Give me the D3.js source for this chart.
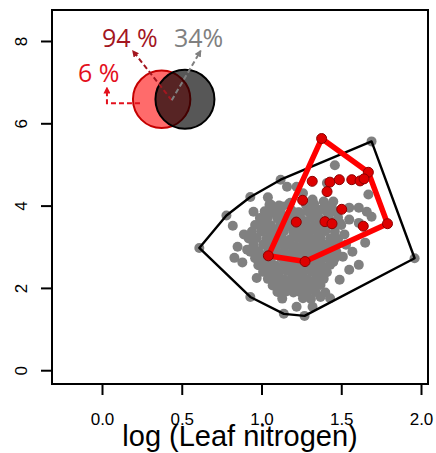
<!DOCTYPE html>
<html><head><meta charset="utf-8">
<script src="https://cdn.jsdelivr.net/npm/d3@7"></script>
<style>body{margin:0;background:#fff}</style>
</head><body>
<svg id="c" width="436" height="453"></svg>
<script>
const xTicks=[0,0.5,1,1.5,2];
const xTickLabels=["0.0","0.5","1.0","1.5","2.0"];
const yTicks=[0,2,4,6,8];
const yTickLabels=["0","2","4","6","8"];
const xTitle="log (Leaf nitrogen)";

// gray points: all species (log leaf N, trait)
const grayOutliers=[
[0.61,2.97],[0.78,3.76],[0.82,3.51],[0.93,4.21],[1.04,4.20],[0.95,3.85],[1.00,3.66],[1.05,4.02],
[1.07,3.83],[1.13,3.98],[1.03,3.49],[1.18,4.07],[1.12,4.63],[1.16,4.46],[1.22,4.46],[1.26,4.30],
[1.24,3.83],[1.27,3.59],[1.16,3.49],[1.41,4.55],[1.46,4.98],[1.69,5.56],[1.32,4.15],[1.39,4.10],
[1.45,4.10],[1.30,3.90],[1.37,3.90],[1.43,3.85],[1.55,3.95],[1.61,3.95],[1.66,3.85],[1.67,4.27],
[1.69,3.73],[1.55,3.66],[1.61,3.58],[1.49,3.58],[1.65,3.10],[1.57,2.88],[1.51,2.76],[1.45,2.63],
[1.61,2.56],[1.55,2.44],[1.49,2.20],[1.37,2.24],[1.43,1.75],[1.37,1.78],[1.32,1.54],[1.22,1.54],
[1.27,1.32],[1.14,1.37],[0.93,1.78],[0.97,2.24],[1.12,1.90],[1.18,2.00],[1.24,1.90],[1.26,2.15],
[1.10,2.07],[1.07,2.39],[1.01,2.56],[1.03,3.05],[1.00,3.37],[0.85,3.00],[0.91,2.93],[0.83,2.73],
[1.96,2.72],[0.89,3.30],[0.88,2.62],[1.52,3.30],[1.53,3.05]
];
const grayCore=[
[1.06,4.02],[1.11,4.00],[1.17,4.03],[1.28,4.01],[1.33,4.04],[1.40,4.00],[1.44,4.02],
[1.02,3.86],[1.08,3.87],[1.12,3.85],[1.19,3.88],[1.23,3.84],[1.29,3.86],[1.34,3.87],[1.41,3.84],[1.46,3.86],
[0.99,3.70],[1.04,3.71],[1.10,3.69],[1.15,3.72],[1.20,3.70],[1.25,3.68],[1.31,3.71],[1.36,3.70],[1.42,3.69],[1.48,3.71],
[0.96,3.53],[1.01,3.54],[1.06,3.52],[1.12,3.55],[1.17,3.53],[1.22,3.51],[1.28,3.54],[1.33,3.53],[1.38,3.52],[1.44,3.54],[1.50,3.53],
[0.94,3.37],[1.00,3.38],[1.05,3.36],[1.09,3.39],[1.14,3.37],[1.20,3.35],[1.25,3.38],[1.30,3.37],[1.35,3.36],[1.40,3.38],[1.46,3.37],
[0.92,3.20],[0.97,3.21],[1.03,3.19],[1.08,3.22],[1.13,3.20],[1.18,3.18],[1.23,3.21],[1.27,3.20],[1.32,3.19],[1.37,3.21],[1.43,3.20],[1.48,3.19],
[0.95,3.04],[1.01,3.05],[1.06,3.03],[1.11,3.06],[1.16,3.04],[1.21,3.02],[1.26,3.05],[1.30,3.04],[1.35,3.03],[1.40,3.05],[1.45,3.04],
[0.93,2.88],[0.98,2.89],[1.04,2.87],[1.09,2.90],[1.14,2.88],[1.19,2.86],[1.24,2.89],[1.29,2.88],[1.33,2.87],[1.38,2.89],[1.43,2.88],[1.47,2.87],
[0.96,2.72],[1.01,2.73],[1.06,2.71],[1.12,2.74],[1.17,2.72],[1.22,2.70],[1.27,2.73],[1.31,2.72],[1.36,2.71],[1.41,2.73],[1.46,2.72],
[0.98,2.55],[1.04,2.56],[1.09,2.54],[1.14,2.57],[1.19,2.55],[1.24,2.53],[1.28,2.56],[1.33,2.55],[1.38,2.54],[1.43,2.56],
[1.01,2.39],[1.06,2.40],[1.11,2.38],[1.16,2.41],[1.21,2.39],[1.26,2.37],[1.31,2.40],[1.36,2.39],[1.41,2.38],
[1.04,2.22],[1.09,2.23],[1.14,2.21],[1.19,2.24],[1.24,2.22],[1.29,2.20],[1.34,2.23],[1.39,2.22],
[1.07,2.06],[1.12,2.07],[1.17,2.05],[1.22,2.08],[1.27,2.06],[1.32,2.04],[1.37,2.07],
[1.10,1.90],[1.15,1.91],[1.20,1.89],[1.29,1.92],[1.34,1.90],[1.40,1.89],
[1.13,1.74],[1.26,1.75],[1.31,1.73]
];
// red points: focal subset
const redPts=[
[1.377,5.63],[1.670,4.81],[1.790,3.56],[1.273,2.64],[1.043,2.78],[1.318,4.59],[1.429,4.57],[1.488,4.63],
[1.566,4.63],[1.618,4.60],[1.643,4.65],[1.411,4.34],[1.258,4.13],[1.503,3.91],[1.218,3.60],[1.398,3.61],
[1.442,3.56],[1.638,3.50]
];
// Venn inset (data units; r in x units)
const vennSets=[
{id:"sub", cx:0.374, cy:6.583, r:0.180, fill:"rgba(255,0,0,0.58)", stroke:"#c40000"},
{id:"all", cx:0.520, cy:6.583, r:0.185, fill:"rgba(0,0,0,0.66)", stroke:"#000"}
];
const vennLabels=[
{text:"94 %", x:0.0, y:7.854, color:"#a3161f"},
{text:"34%", x:0.451, y:7.854, color:"#808080"},
{text:"6 %", x:-0.150, y:7.003, color:"#e3101c"}
];
const vennArrows=[
{pts:[[0.437,6.56],[0.194,7.757]], color:"#a3161f"},
{pts:[[0.437,6.56],[0.618,7.757]], color:"#808080"},
{pts:[[0.238,6.49],[0.031,6.49],[0.031,6.86]], color:"#e3101c"}
];

const svg=d3.select("#c");
const L=52,R=428,T=10,B=384;
const x=d3.scaleLinear().domain([-0.3135,2.0439]).range([L,R]);
const y=d3.scaleLinear().domain([-0.335,8.753]).range([B,T]);
const font="'Liberation Sans', Arial, Helvetica, sans-serif";

// points
svg.append("g").selectAll("circle").data(grayOutliers.concat(grayCore)).join("circle")
  .attr("cx",d=>x(d[0])).attr("cy",d=>y(d[1])).attr("r",5).attr("fill","#808080");

// hulls
const line=d3.line().x(d=>x(d[0])).y(d=>y(d[1])).curve(d3.curveLinearClosed);
const grayHull=d3.polygonHull(grayOutliers.concat(grayCore));
svg.append("path").attr("d",line(grayHull)).attr("fill","none").attr("stroke","#000").attr("stroke-width",2.4).attr("stroke-linejoin","round");
const redHull=d3.polygonHull(redPts);
svg.append("path").attr("d",line(redHull)).attr("fill","none").attr("stroke","#ff0000").attr("stroke-width",5.5).attr("stroke-linejoin","round");

svg.append("g").selectAll("circle").data(redPts).join("circle")
  .attr("cx",d=>x(d[0])).attr("cy",d=>y(d[1])).attr("r",5).attr("fill","#dd0000").attr("stroke","#8b0000").attr("stroke-width",1);

// Venn
const pxPerX=x(1)-x(0);
svg.append("g").selectAll("circle").data(vennSets).join("circle")
  .attr("cx",d=>x(d.cx)).attr("cy",d=>y(d.cy)).attr("r",d=>d.r*pxPerX)
  .attr("fill",d=>d.fill).attr("stroke",d=>d.stroke).attr("stroke-width",2);

const defs=svg.append("defs");
vennArrows.forEach((a,i)=>{
  defs.append("marker").attr("id","ah"+i).attr("viewBox","0 0 10 10").attr("refX",8).attr("refY",5)
    .attr("markerWidth",7).attr("markerHeight",7).attr("markerUnits","userSpaceOnUse").attr("orient","auto")
    .append("path").attr("d","M0,0L10,5L0,10Z").attr("fill",a.color);
  svg.append("path").attr("d",d3.line().x(d=>x(d[0])).y(d=>y(d[1]))(a.pts))
    .attr("fill","none").attr("stroke",a.color).attr("stroke-width",2).attr("stroke-dasharray","5,3")
    .attr("marker-end","url(#ah"+i+")");
});
svg.append("g").selectAll("text").data(vennLabels).join("text")
  .attr("x",d=>x(d.x)).attr("y",d=>y(d.y)).attr("fill",d=>d.color)
  .attr("font-family","'Open Sans', sans-serif").attr("font-size",25).text(d=>d.text);

// box
svg.append("rect").attr("x",L).attr("y",T).attr("width",R-L).attr("height",B-T)
  .attr("fill","none").attr("stroke","#000").attr("stroke-width",2);

// axes
const xa=svg.append("g").attr("transform",`translate(0,${B})`)
  .call(d3.axisBottom(x).tickValues(xTicks).tickFormat((d,i)=>xTickLabels[i]).tickSize(11).tickPadding(18));
xa.select(".domain").remove();
xa.selectAll("line").attr("stroke-width",2);
xa.selectAll("text").attr("font-family",font).attr("font-size",17).attr("fill","#000");

const ya=svg.append("g").attr("transform",`translate(${L},0)`)
  .call(d3.axisLeft(y).tickValues(yTicks).tickFormat((d,i)=>yTickLabels[i]).tickSize(11));
ya.select(".domain").remove();
ya.selectAll("line").attr("stroke-width",2);
ya.selectAll("text").attr("font-family",font).attr("font-size",17).attr("fill","#000")
  .attr("x",0).attr("dy",null).attr("text-anchor","middle")
  .attr("transform","translate(-25,0) rotate(-90)");

svg.append("text").attr("x",(L+R)/2).attr("y",446).attr("text-anchor","middle")
  .attr("font-family",font).attr("font-size",29).attr("fill","#000").text(xTitle);
</script>
</body></html>
